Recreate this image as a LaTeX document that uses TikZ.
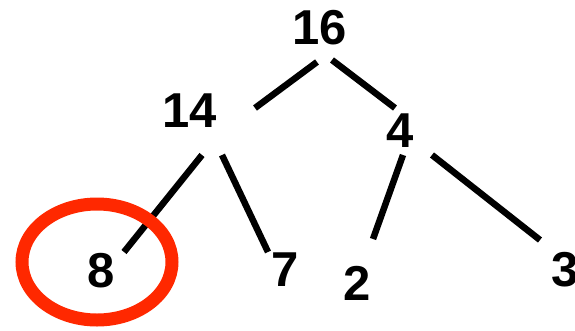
\documentclass[tikz,border=0pt]{standalone}
\usepackage{fontspec}
\setmainfont{Liberation Sans}
\usepackage{tikz}
\definecolor{ringred}{RGB}{255,40,0}

\begin{document}
\begin{tikzpicture}[x=1pt, y=-1pt,
      num/.style={inner sep=0pt, font=\fontsize{49}{49}\selectfont\bfseries},
      edge/.style={line width=6.5pt, line cap=butt},
      ring/.style={line width=13pt, draw=ringred}]
    \useasboundingbox (0,0) rectangle (575,330);
    \node[num] (n16) at (320,27.5)  {16};
    \node[num] (n14) at (190,110.5) {14};
    \node[num] (n4)  at (400,131)   {4};
    \node[num] (n8)  at (101,271)   {8};
    \node[num] (n7)  at (285,270)   {7};
    \node[num] (n2)  at (357,283)   {2};
    \node[num] (n3)  at (565,270)   {3};
    \draw[edge] ([shift={(-3,34.5)}]n16.center) -- ([shift={(65,-2.5)}]n14.center);
    \draw[edge] ([shift={(12,32.5)}]n16.center) -- ([shift={(-5,-23)}]n4.center);
    \draw[edge] ([shift={(12,44.5)}]n14.center) -- ([shift={(23,-19)}]n8.center);
    \draw[edge] ([shift={(32,44.5)}]n14.center) -- ([shift={(-17,-18)}]n7.center);
    \draw[edge] ([shift={(3,24)}]n4.center) -- ([shift={(16,-44)}]n2.center);
    \draw[edge] ([shift={(32,24)}]n4.center) -- ([shift={(-25,-30)}]n3.center);
    % circled leaf
    \draw[ring] ([shift={(-4,-9)}]n8.center) ellipse [x radius=75, y radius=58];
  \end{tikzpicture}
\end{document}
